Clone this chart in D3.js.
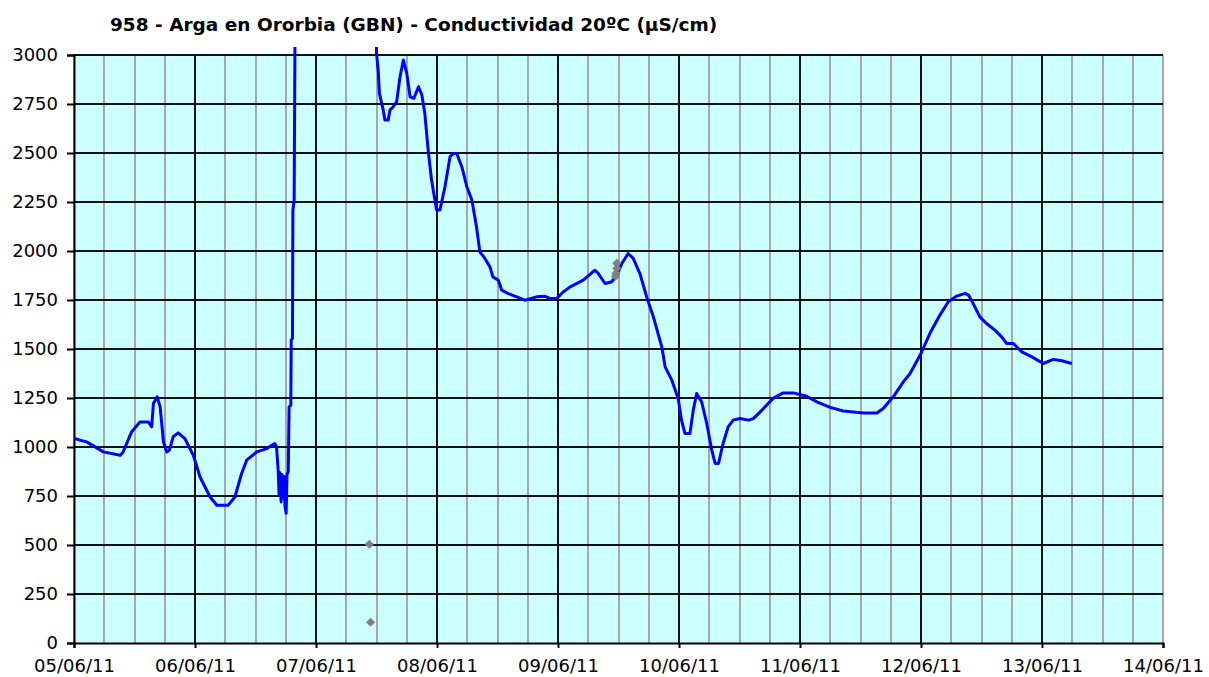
<!DOCTYPE html>
<html>
<head>
<meta charset="utf-8">
<script src="https://cdn.jsdelivr.net/npm/d3@7"></script>
<style>
  body { margin: 0; background: #fff; }
  svg { display: block; }
  text { font-family: "DejaVu Sans", Verdana, sans-serif; fill: #000; }
</style>
</head>
<body>
<svg id="chart"></svg>
<script>
// chart data
const chartTitle = "958 - Arga en Ororbia (GBN) - Conductividad 20ºC (µS/cm)";

// conductivity readings (blue line)
const readTimes = [
  "2011-06-05 00:00", "2011-06-05 01:10", "2011-06-05 02:30", "2011-06-05 05:50", "2011-06-05 09:10",
  "2011-06-05 09:45", "2011-06-05 11:25", "2011-06-05 13:05", "2011-06-05 14:45", "2011-06-05 15:25",
  "2011-06-05 15:45", "2011-06-05 16:30", "2011-06-05 17:05", "2011-06-05 17:45", "2011-06-05 18:25",
  "2011-06-05 18:55", "2011-06-05 19:40", "2011-06-05 20:40", "2011-06-05 22:00", "2011-06-05 23:40",
  "2011-06-06 01:00", "2011-06-06 03:00", "2011-06-06 04:20", "2011-06-06 06:35", "2011-06-06 07:55",
  "2011-06-06 09:15", "2011-06-06 10:15", "2011-06-06 12:15", "2011-06-06 14:15", "2011-06-06 15:15",
  "2011-06-06 15:50", "2011-06-06 16:10", "2011-06-06 16:30", "2011-06-06 16:40", "2011-06-06 16:50",
  "2011-06-06 17:05", "2011-06-06 17:15", "2011-06-06 17:25", "2011-06-06 17:40", "2011-06-06 17:50",
  "2011-06-06 18:05", "2011-06-06 18:15", "2011-06-06 18:30", "2011-06-06 18:40", "2011-06-06 19:00",
  "2011-06-06 19:05", "2011-06-06 19:20", "2011-06-06 19:25", "2011-06-06 19:40", "2011-06-06 19:50",
  "2011-06-07 00:00", "2011-06-07 11:55",
  "2011-06-07 12:00", "2011-06-07 12:20", "2011-06-07 12:35", "2011-06-07 13:20", "2011-06-07 13:40",
  "2011-06-07 14:20", "2011-06-07 14:40", "2011-06-07 15:20", "2011-06-07 16:00", "2011-06-07 16:40",
  "2011-06-07 17:20", "2011-06-07 18:00", "2011-06-07 18:40", "2011-06-07 19:25", "2011-06-07 20:20",
  "2011-06-07 21:00", "2011-06-07 21:35", "2011-06-07 22:15", "2011-06-07 22:55", "2011-06-07 23:55",
  "2011-06-08 00:35", "2011-06-08 01:35", "2011-06-08 02:35", "2011-06-08 03:15", "2011-06-08 03:55",
  "2011-06-08 04:55", "2011-06-08 05:55", "2011-06-08 06:55", "2011-06-08 07:50", "2011-06-08 08:30",
  "2011-06-08 09:30", "2011-06-08 10:30", "2011-06-08 11:05", "2011-06-08 12:10", "2011-06-08 12:50",
  "2011-06-08 14:10", "2011-06-08 15:50", "2011-06-08 17:25", "2011-06-08 19:45", "2011-06-08 21:25",
  "2011-06-08 22:25", "2011-06-08 23:45", "2011-06-09 01:05", "2011-06-09 02:25", "2011-06-09 05:00",
  "2011-06-09 07:20", "2011-06-09 08:00", "2011-06-09 09:20", "2011-06-09 10:40", "2011-06-09 11:40",
  "2011-06-09 12:40", "2011-06-09 13:55", "2011-06-09 14:55", "2011-06-09 16:15", "2011-06-09 17:35",
  "2011-06-09 18:55", "2011-06-09 20:35", "2011-06-09 21:15", "2011-06-09 22:35", "2011-06-09 23:50",
  "2011-06-10 00:30", "2011-06-10 01:10", "2011-06-10 02:10", "2011-06-10 02:50", "2011-06-10 03:30",
  "2011-06-10 04:30", "2011-06-10 05:30", "2011-06-10 06:30", "2011-06-10 07:10", "2011-06-10 07:50",
  "2011-06-10 08:45", "2011-06-10 09:45", "2011-06-10 10:45", "2011-06-10 12:05", "2011-06-10 13:45",
  "2011-06-10 14:45", "2011-06-10 16:45", "2011-06-10 18:40", "2011-06-10 20:40", "2011-06-10 22:40",
  "2011-06-11 01:20", "2011-06-11 03:20", "2011-06-11 06:00", "2011-06-11 08:35", "2011-06-11 10:35",
  "2011-06-11 12:35", "2011-06-11 15:15", "2011-06-11 16:30", "2011-06-11 18:30", "2011-06-11 20:30",
  "2011-06-11 21:50", "2011-06-11 23:50", "2011-06-12 01:45", "2011-06-12 03:45", "2011-06-12 05:25",
  "2011-06-12 07:05", "2011-06-12 08:45", "2011-06-12 09:25", "2011-06-12 10:20", "2011-06-12 11:40",
  "2011-06-12 13:00", "2011-06-12 14:40", "2011-06-12 16:00", "2011-06-12 17:00", "2011-06-12 18:20",
  "2011-06-12 20:00", "2011-06-12 22:00", "2011-06-13 00:15", "2011-06-13 02:15", "2011-06-13 03:55",
  "2011-06-13 05:55"
];
const readValues = [
  1045, 1035, 1026, 975, 958,
  975, 1077, 1128, 1128, 1103,
  1222, 1256, 1205, 1026, 975,
  984, 1052, 1072, 1043, 958,
  847, 745, 703, 703, 745,
  865, 933, 975, 992, 1009,
  1018, 1000, 881, 760, 870,
  720, 860, 740, 850, 700,
  662, 860, 873, 1205, 1213,
  1545, 1554, 2209, 2260, 3100,
  4000, 3300,
  3009, 2923, 2804, 2719, 2668,
  2668, 2719, 2736, 2762, 2889,
  2974, 2907, 2787, 2779, 2838,
  2796, 2702, 2515, 2362, 2209,
  2209, 2328, 2481, 2498, 2498,
  2430, 2328, 2260, 2124, 1996,
  1962, 1919, 1868, 1851, 1800,
  1783, 1766, 1749, 1766, 1769,
  1758, 1758, 1792, 1817, 1851,
  1902, 1885, 1834, 1843, 1877,
  1936, 1987, 1962, 1885, 1766,
  1664, 1511, 1409, 1341, 1248,
  1137, 1069, 1069, 1188, 1273,
  1230, 1120, 984, 916, 916,
  1018, 1103, 1137, 1145, 1137,
  1145, 1196, 1248, 1276, 1276,
  1259, 1230, 1202, 1184, 1179,
  1174, 1174, 1196, 1256, 1332,
  1375, 1469, 1579, 1673, 1741,
  1770, 1784, 1775, 1733, 1664,
  1630, 1596, 1562, 1528, 1528,
  1485, 1460, 1426, 1447, 1440,
  1426
];

// isolated readings (grey diamonds)
const spotTimes = [
  "2011-06-07 10:35", "2011-06-07 10:50",
  "2011-06-09 11:40", "2011-06-09 11:40", "2011-06-09 11:30", "2011-06-09 11:25"
];
const spotValues = [504, 106, 1937, 1912, 1886, 1871];

const yTicks = [0, 250, 500, 750, 1000, 1250, 1500, 1750, 2000, 2250, 2500, 2750, 3000];
const dayTicks = [
  "2011-06-05", "2011-06-06", "2011-06-07", "2011-06-08", "2011-06-09",
  "2011-06-10", "2011-06-11", "2011-06-12", "2011-06-13", "2011-06-14"
];

const width = 1209, height = 677;
const margin = {top: 55, right: 46, bottom: 34, left: 74};
const innerW = width - margin.left - margin.right;
const innerH = height - margin.top - margin.bottom;

const parseTime = d3.timeParse("%Y-%m-%d %H:%M");
const parseDay = d3.timeParse("%Y-%m-%d");

const readings = readTimes.map((t, i) => ({date: parseTime(t), value: readValues[i]}));
const spots = spotTimes.map((t, i) => ({date: parseTime(t), value: spotValues[i]}));
const days = dayTicks.map(parseDay);

const svg = d3.select("#chart")
    .attr("width", width)
    .attr("height", height);

const x = d3.scaleTime()
    .domain([days[0], days[days.length - 1]])
    .range([0, innerW]);

const y = d3.scaleLinear()
    .domain([0, 3000])
    .range([innerH, 0]);

const g = svg.append("g")
    .attr("transform", `translate(${margin.left},${margin.top})`);

// plot background
g.append("rect")
    .attr("width", innerW)
    .attr("height", innerH)
    .attr("fill", "#ccffff");

// minor grid every 6 hours
g.append("g")
    .selectAll("line")
    .data(x.ticks(d3.timeHour.every(6)))
    .join("line")
    .attr("x1", d => Math.round(x(d)))
    .attr("x2", d => Math.round(x(d)))
    .attr("y1", 0)
    .attr("y2", innerH)
    .attr("stroke", "#a8a8a8")
    .attr("stroke-width", 2);

// major grid, one line per day and per 250 µS/cm
g.append("g")
    .selectAll("line")
    .data(days.slice(1, -1))
    .join("line")
    .attr("x1", d => Math.round(x(d)))
    .attr("x2", d => Math.round(x(d)))
    .attr("y1", 0)
    .attr("y2", innerH)
    .attr("stroke", "#111")
    .attr("stroke-width", 2);

g.append("g")
    .selectAll("line")
    .data(yTicks.slice(1))
    .join("line")
    .attr("x1", 0)
    .attr("x2", innerW)
    .attr("y1", d => Math.round(y(d)))
    .attr("y2", d => Math.round(y(d)))
    .attr("stroke", "#111")
    .attr("stroke-width", 2);

// axes
const yAxis = g.append("g")
    .call(d3.axisLeft(y).tickValues(yTicks).tickSize(7).tickPadding(9)
      .tickFormat(d3.format("d")));

const xAxis = g.append("g")
    .attr("transform", `translate(0,${innerH})`)
    .call(d3.axisBottom(x).tickValues(days).tickSize(5).tickPadding(11)
      .tickFormat(d3.timeFormat("%d/%m/%y")));

[yAxis, xAxis].forEach(a => {
  a.select(".domain").attr("stroke", "#000").attr("stroke-width", 2);
  a.selectAll(".tick line").attr("stroke", "#000").attr("stroke-width", 2);
  a.selectAll("text").attr("font-size", 18).attr("fill", "#000")
      .style("font-family", "'DejaVu Sans', Verdana, sans-serif");
});

// the line runs off the top; clip it just above the plot
svg.append("clipPath")
    .attr("id", "plot-clip")
  .append("rect")
    .attr("x", 0)
    .attr("y", -8)
    .attr("width", innerW)
    .attr("height", innerH + 8);

const line = d3.line()
    .x(d => x(d.date))
    .y(d => y(d.value));

g.append("path")
    .datum(readings)
    .attr("clip-path", "url(#plot-clip)")
    .attr("fill", "none")
    .attr("stroke", "#0000ff")
    .attr("stroke-width", 3)
    .attr("stroke-linejoin", "round")
    .attr("d", line);

// grey diamonds
g.append("g")
    .selectAll("path")
    .data(spots)
    .join("path")
    .attr("transform", d => `translate(${x(d.date)},${y(d.value)}) rotate(45)`)
    .attr("d", d3.symbol(d3.symbolSquare, 42))
    .attr("fill", "#808080");

// title
svg.append("text")
    .attr("x", 110)
    .attr("y", 31)
    .attr("font-size", 18.5)
    .attr("font-weight", "bold")
    .text(chartTitle);
</script>
</body>
</html>
